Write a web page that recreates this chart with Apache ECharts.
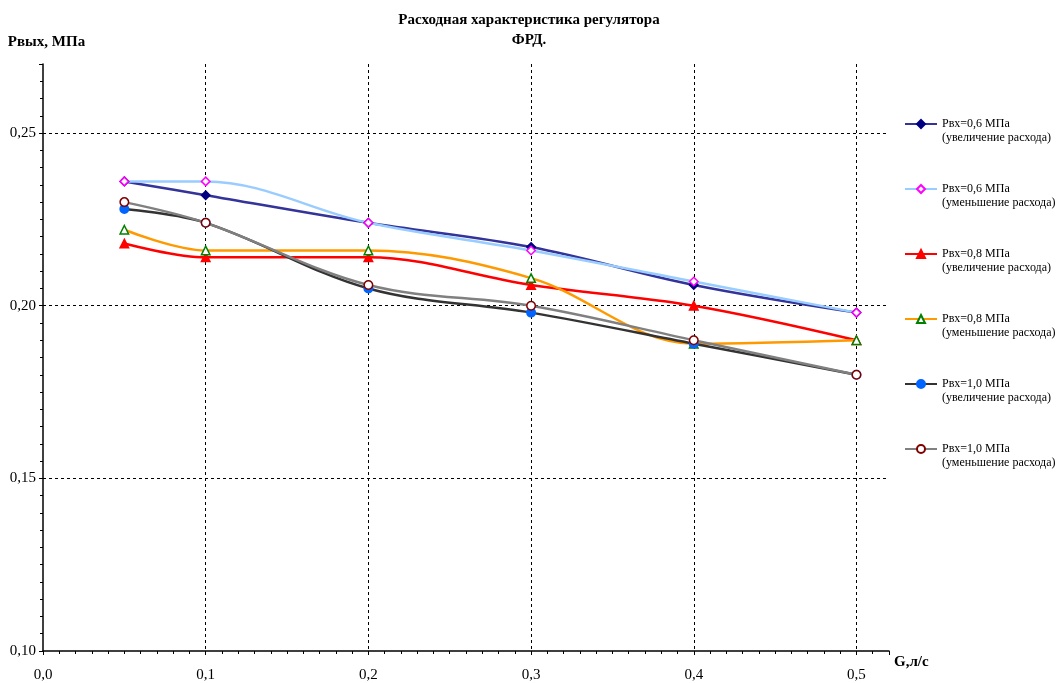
<!DOCTYPE html>
<html>
<head>
<meta charset="utf-8">
<script src="https://cdn.jsdelivr.net/npm/echarts@6/dist/echarts.min.js"></script>
<style>html,body{margin:0;padding:0;background:#fff}#c{width:1058px;height:683px}</style>
</head>
<body>
<div id="c"></div>
<script>
var flowG = [0.05, 0.1, 0.2, 0.3, 0.4, 0.5];
var p06inc = [0.236, 0.232, 0.224, 0.217, 0.206, 0.198];
var p06dec = [0.236, 0.236, 0.224, 0.216, 0.207, 0.198];
var p08inc = [0.218, 0.214, 0.214, 0.206, 0.200, 0.190];
var p08dec = [0.222, 0.216, 0.216, 0.208, 0.189, 0.190];
var p10inc = [0.228, 0.224, 0.205, 0.198, 0.189, 0.180];
var p10dec = [0.230, 0.224, 0.206, 0.200, 0.190, 0.180];
var seriesNames = [
  'Рвх=0,6 МПа\n(увеличение расхода)',
  'Рвх=0,6 МПа\n(уменьшение расхода)',
  'Рвх=0,8 МПа\n(увеличение расхода)',
  'Рвх=0,8 МПа\n(уменьшение расхода)',
  'Рвх=1,0 МПа\n(увеличение расхода)',
  'Рвх=1,0 МПа\n(уменьшение расхода)'
];
var titleText = 'Расходная характеристика регулятора\nФРД.';
var yName = 'Рвых, МПа';
var xName = 'G,л/с';

var FONT = '"Liberation Serif", "Times New Roman", serif';
function pairs(ys){ return flowG.map(function(x,i){ return [x, ys[i]]; }); }
function mk(name, ys, lineColor, symbol, fill, border){
  return {
    name: name, type: 'line', data: pairs(ys), smooth: 0.35,
    symbol: symbol, symbolSize: 8.5,
    lineStyle: {color: lineColor, width: 2.5},
    itemStyle: {color: fill, borderColor: border, borderWidth: 1.5},
    emphasis: {disabled: true}
  };
}
var chart = echarts.init(document.getElementById('c'), null, {renderer: 'canvas'});
chart.setOption({
  animation: false,
  backgroundColor: '#fff',
  title: {
    text: titleText, left: 524, textAlign: 'center', top: 5,
    textStyle: {fontFamily: FONT, fontSize: 15, fontWeight: 'bold', color: '#000', lineHeight: 20}
  },
  grid: {left: 43, right: 169, top: 64, bottom: 31, containLabel: false},
  legend: {
    orient: 'vertical', left: 904, top: 103, padding: 0, itemWidth: 32, itemHeight: 10, itemGap: 23,
    textStyle: {fontFamily: FONT, fontSize: 12, color: '#000', lineHeight: 14},
    formatter: function(n){ return '\n' + n; },
    data: seriesNames
  },
  xAxis: {
    type: 'value', min: 0, max: 0.52, interval: 0.1,
    name: xName, nameLocation: 'end', nameGap: 5,
    nameTextStyle: {fontFamily: FONT, fontSize: 15, fontWeight: 'bold', color: '#000', verticalAlign: 'top', padding: [4,0,0,0]},
    axisLine: {show: true, lineStyle: {color: '#000', width: 1.5}},
    axisTick: {show: true, length: 4, lineStyle: {color: '#000'}},
    minorTick: {show: true, splitNumber: 10, length: 3, lineStyle: {color: '#000'}},
    axisLabel: {fontFamily: FONT, fontSize: 15, color: '#000', margin: 17, showMaxLabel: false,
      formatter: function(v){ return v.toFixed(1).replace('.', ','); }},
    splitLine: {show: true, showMinLine: false, showMaxLine: false, lineStyle: {color: '#000', type: [3,3], width: 1}}
  },
  yAxis: {
    type: 'value', min: 0.10, max: 0.27, interval: 0.05,
    name: yName, nameLocation: 'end', nameGap: 14,
    nameTextStyle: {fontFamily: FONT, fontSize: 15, fontWeight: 'bold', color: '#000', padding: [0,0,0,7]},
    axisLine: {show: true, lineStyle: {color: '#000', width: 1.5}},
    axisTick: {show: true, length: 4, lineStyle: {color: '#000'}},
    minorTick: {show: true, splitNumber: 10, length: 3, lineStyle: {color: '#000'}},
    axisLabel: {fontFamily: FONT, fontSize: 15, color: '#000', margin: 7, showMaxLabel: false,
      formatter: function(v){ return v.toFixed(2).replace('.', ','); }},
    splitLine: {show: true, showMinLine: false, showMaxLine: false, lineStyle: {color: '#000', type: [3,3], width: 1}}
  },
  series: [
    mk(seriesNames[0], p06inc, '#333399', 'diamond', '#000080', '#000080'),
    mk(seriesNames[1], p06dec, '#99ccff', 'diamond', '#ffffff', '#ff00ff'),
    mk(seriesNames[2], p08inc, '#ff0000', 'triangle', '#ff0000', '#ff0000'),
    mk(seriesNames[3], p08dec, '#ff9900', 'triangle', '#ffffff', '#008000'),
    mk(seriesNames[4], p10inc, '#333333', 'circle', '#0066ff', '#0066ff'),
    mk(seriesNames[5], p10dec, '#808080', 'circle', '#ffffff', '#800000')
  ]
});
</script>
</body>
</html>
